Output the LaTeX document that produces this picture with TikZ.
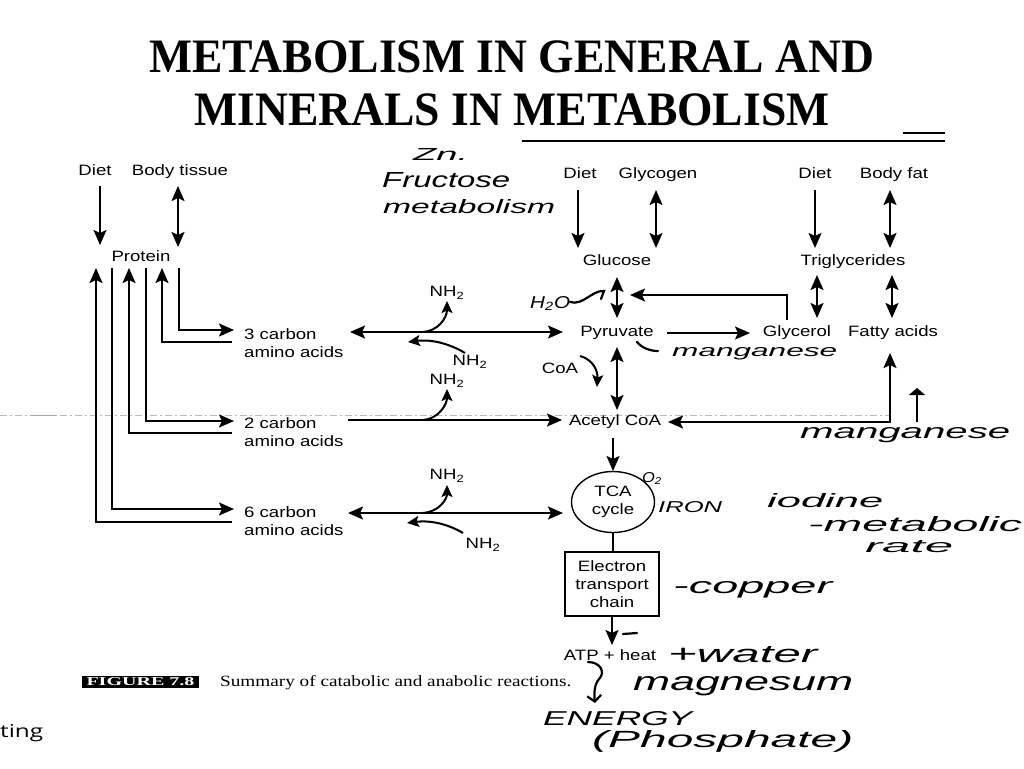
\documentclass[tikz,border=0pt]{standalone}
\usepackage{fontspec}
\usepackage{graphicx}
\setmainfont{Liberation Serif}
\newfontfamily\titlefont{Liberation Serif}[FakeStretch=0.95]
\newfontfamily\labfont{Liberation Sans}[FakeStretch=1.24]
\newfontfamily\handfont{Liberation Sans}
\newfontfamily\tingfont{Open Sans}
\usetikzlibrary{arrows.meta,shapes.geometric}
\newcommand\hw[3]{\resizebox{#1pt}{#2pt}{\handfont\itshape #3}}
\tikzset{
  lab/.style={font=\labfont\fontsize{15}{18}\selectfont, inner sep=0pt, align=center},
  lab1/.style={lab, text height=10.5pt, text depth=3pt},
  labL/.style={lab, anchor=west, align=left},
  ttl/.style={font=\titlefont\bfseries\fontsize{48}{52}\selectfont, inner sep=0pt, anchor=base},
  ln/.style={line width=2pt},
  cur/.style={line width=2pt, -{Stealth[length=12pt,width=11pt,inset=2.5pt]}},
  hand/.style={inner sep=0pt, anchor=base west},
  hline/.style={line width=2.2pt, line cap=round},
  rule/.style={line width=2pt},
  scan/.style={gray!55, line width=0.8pt, dash pattern=on 7pt off 3pt on 2pt off 3pt}
}
\begin{document}
\begin{tikzpicture}[x=1pt,y=-1pt, >={Stealth[length=15pt,width=13pt,inset=3pt]}]
\useasboundingbox (0,0) rectangle (1024,768);
\fill[white] (0,0) rectangle (1024,768);

% scan artefact
\draw[scan] (0,415) -- (890,415);
\draw[gray!70, line width=1pt] (30,415) -- (57,415);

% title
\node[ttl] (t1) at (512,72) {METABOLISM IN GENERAL AND};
\node[ttl] (t2) at (512,125) {MINERALS IN METABOLISM};
\coordinate (r1a) at (522,141); \coordinate (r1b) at (945,141);
\coordinate (r2a) at (903,133); \coordinate (r2b) at (945,133);
\draw[rule] (r1a) -- (r1b);
\draw[rule] (r2a) -- (r2b);

% ---------- left column ----------
\node[lab1] (dietA) at (95,172) {Diet};
\node[lab1] (bodyT) at (180,172) {Body tissue};
\node[lab1] (protein) at (141,258) {Protein};
\node[labL] (c3) at (244,343) {3 carbon\\amino acids};
\node[labL] (c2) at (244,432) {2 carbon\\amino acids};
\node[labL] (c6) at (244,521) {6 carbon\\amino acids};

\draw[ln,->] (100,186) -- (100,245);
\draw[ln,<->] (178,186) -- (178,247);
\draw[ln,->] (179,268) |- (234,330);
\draw[ln,->] (232,342) -| (162,268);
\draw[ln,->] (146,268) |- (234,421);
\draw[ln,->] (232,433) -| (129,268);
\draw[ln,->] (112,268) |- (234,509);
\draw[ln,->] (232,522) -| (96,268);

% ---------- NH2 ----------
\node[lab1] (n1) at (447,293) {NH\textsubscript{2}};
\node[lab1] (n2) at (470,362) {NH\textsubscript{2}};
\node[lab1] (n3) at (447,381) {NH\textsubscript{2}};
\node[lab1] (n4) at (447,476) {NH\textsubscript{2}};
\node[lab1] (n5) at (483,545) {NH\textsubscript{2}};

\draw[ln,<->] (350,332) -- (563,332);
\draw[cur] (423,332) .. controls (438,331) and (447,318) .. (447,301);
\draw[cur] (465,353) .. controls (450,344) and (432,339) .. (408,342);
\draw[ln,->] (348,420) -- (562,420);
\draw[cur] (423,420) .. controls (438,419) and (447,405) .. (447,389);
\draw[ln,<->] (348,513) -- (563,513);
\draw[cur] (423,513) .. controls (438,512) and (447,500) .. (447,485);
\draw[cur] (463,533) .. controls (448,524) and (430,520) .. (407,523);

% ---------- centre column ----------
\node[lab1] (dietG) at (580,175) {Diet};
\node[lab1] (glycogen) at (658,175) {Glycogen};
\node[lab1] (glucose) at (617,262) {Glucose};
\node[lab1] (pyruvate) at (617,333) {Pyruvate};
\node[lab1] (coa) at (560,370) {CoA};
\node[lab1] (acetyl) at (615,422) {Acetyl CoA};
\node[lab, draw, ellipse, line width=1.4pt, minimum width=83pt, minimum height=61pt] (tca) at (613,502) {TCA\\cycle};
\node[lab, draw, rectangle, line width=1.4pt, minimum width=94pt, minimum height=64pt] (etc) at (612,584) {Electron\\transport\\chain};
\node[lab1] (atp) at (610,657) {ATP + heat};

\draw[ln,->] (578,190) -- (578,248);
\draw[ln,<->] (656,190) -- (656,248);
\draw[ln,<->] (617,277) -- (617,318);
\draw[ln,<->] (617,347) -- (617,410);
\draw[cur] (580,356) .. controls (592,359) and (598,370) .. (597,387);
\draw[ln,->] (613,438) -- (613,471);
\draw[ln] (tca.south) -- (tca.south |- etc.north);
\draw[ln,->] (612,616) -- (612,645);
\draw[ln,->] (667,333) -- (750,333);
\draw[ln,->] (787,320) |- (630,295);

% ---------- right column ----------
\node[lab1] (dietF) at (815,175) {Diet};
\node[lab1] (bodyfat) at (894,175) {Body fat};
\node[lab1] (trig) at (853,262) {Triglycerides};
\node[lab1] (glycerol) at (797,333) {Glycerol};
\node[lab1] (fatty) at (893,333) {Fatty acids};

\draw[ln,->] (815,190) -- (815,248);
\draw[ln,<->] (890,190) -- (890,248);
\draw[ln,<->] (817,275) -- (817,318);
\draw[ln,<->] (892,275) -- (892,318);
\draw[ln,<->] (668,422) -| (890,353);

% ---------- caption ----------
\node[fill=black, inner sep=0pt, minimum width=117pt, minimum height=12pt, text=white] (fig) at (140.5,682) {\resizebox{108pt}{8pt}{\bfseries FIGURE 7.8}};
\node[inner sep=0pt, anchor=base west] (cap) at (220,686) {\resizebox{351pt}{11pt}{Summary of catabolic and anabolic reactions.}};
\node[inner sep=0pt, anchor=base west] (ting) at (0,737) {\resizebox{43pt}{13pt}{\tingfont ting}};

% ---------- handwritten notes ----------
\node[hand] (hZn) at (413,160) {\hw{55}{12}{Zn.}};
\node[hand] (hFr) at (382,187) {\hw{128}{15}{Fructose}};
\node[hand] (hMe) at (383,213) {\hw{172}{14}{metabolism}};
\node[hand] (hH2O) at (530,308) {\hw{40}{12}{H\textsubscript{2}O}};
\draw[hline] (570,302) .. controls (583,306) and (592,290) .. (604,291) -- (601,299);
\draw[hline] (637,342) .. controls (642,348) and (650,351) .. (658,351);
\node[hand] (hMn1) at (672,356) {\hw{165}{9}{manganese}};
\draw[line width=2.5pt, -{Triangle[length=7pt,width=16pt]}] (917,422) -- (917,388);
\node[hand] (hMn2) at (800,438) {\hw{210}{11}{manganese}};
\node[hand] (hO2) at (642,482) {\hw{20}{10}{O\textsubscript{2}}};
\node[hand] (hFe) at (658,512) {\hw{64}{11}{IRON}};
\node[hand] (hI) at (767,507) {\hw{116}{14}{iodine}};
\node[hand] (hMR) at (808,531) {\hw{214}{15}{-metabolic}};
\node[hand] (hRate) at (865,552) {\hw{88}{12}{rate}};
\node[hand] (hCu) at (673,593) {\hw{159}{12}{-copper}};
\draw[hline] (623,634) -- (637,633);
\node[hand] (hW) at (668,662) {\hw{149}{16}{+water}};
\node[hand] (hMg) at (633,690) {\hw{220}{14}{magnesum}};
\draw[hline, -{Straight Barb[length=6pt,width=14pt]}] (588,662) .. controls (600,662) and (606,672) .. (599,679) .. controls (594,685) and (594,694) .. (595,703);
\node[hand] (hEn) at (543,725) {\hw{149}{14}{ENERGY}};
\node[hand] (hPh) at (592,747) {\hw{261}{17}{(Phosphate)}};
\end{tikzpicture}
\end{document}
